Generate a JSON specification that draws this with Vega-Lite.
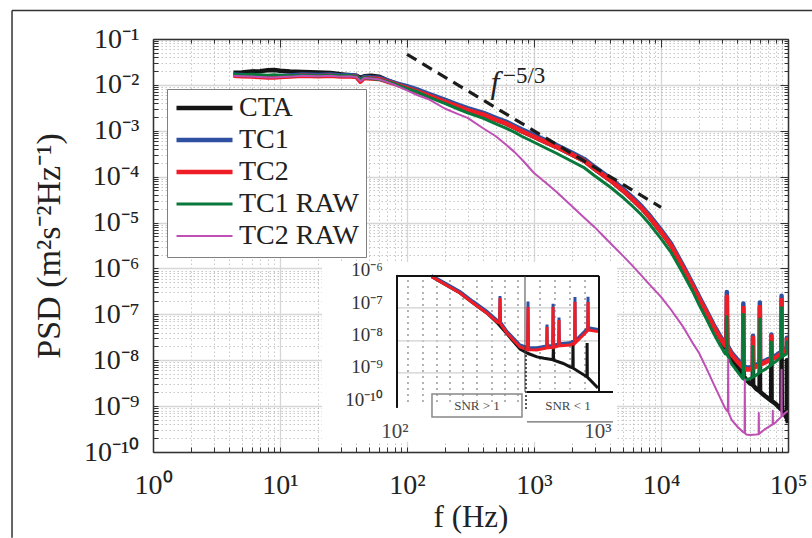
{
  "$schema": "https://vega.github.io/schema/vega-lite/v6.json",
  "width": 635,
  "height": 413,
  "autosize": {"type": "none"},
  "padding": {"left": 153, "top": 39, "right": 24, "bottom": 86},
  "background": "white",
  "config": {
    "view": {"stroke": null},
    "font": "Liberation Serif"
  },
  "datasets": {
    "main": [
      {"s":"CTA","f":4.3,"p":0.01845},{"s":"CTA","f":5,"p":0.01862},{"s":"CTA","f":6,"p":0.0195},{"s":"CTA","f":7,"p":0.01995},{"s":"CTA","f":8,"p":0.0209},{"s":"CTA","f":9,"p":0.0211},{"s":"CTA","f":10,"p":0.0204},{"s":"CTA","f":12,"p":0.0195},{"s":"CTA","f":15,"p":0.01905},{"s":"CTA","f":20,"p":0.01862},{"s":"CTA","f":25,"p":0.0182},{"s":"CTA","f":30,"p":0.01698},{"s":"CTA","f":35,"p":0.01622},{"s":"CTA","f":40,"p":0.01585},{"s":"CTA","f":43,"p":0.01413},{"s":"CTA","f":46,"p":0.01549},{"s":"CTA","f":52,"p":0.01585},{"s":"CTA","f":60,"p":0.01514},{"s":"CTA","f":70,"p":0.01259},{"s":"CTA","f":80,"p":0.01096},{"s":"CTA","f":100,"p":0.00851},{"s":"CTA","f":120,"p":0.00724},{"s":"CTA","f":150,"p":0.00575},{"s":"CTA","f":200,"p":0.00427},{"s":"CTA","f":250,"p":0.00339},{"s":"CTA","f":300,"p":0.00282},{"s":"CTA","f":400,"p":0.00224},{"s":"CTA","f":500,"p":0.001738},{"s":"CTA","f":600,"p":0.001445},{"s":"CTA","f":700,"p":0.001175},{"s":"CTA","f":800,"p":0.000977},{"s":"CTA","f":1000,"p":0.000741},{"s":"CTA","f":1200,"p":0.000589},{"s":"CTA","f":1500,"p":0.000447},{"s":"CTA","f":2000,"p":0.000302},{"s":"CTA","f":2500,"p":0.000219},{"s":"CTA","f":3000,"p":0.0001479},{"s":"CTA","f":4000,"p":8.32e-5},{"s":"CTA","f":5000,"p":5.01e-5},{"s":"CTA","f":6000,"p":3.16e-5},{"s":"CTA","f":7000,"p":2.09e-5},{"s":"CTA","f":8000,"p":1.38e-5},{"s":"CTA","f":10000,"p":6.31e-6},{"s":"CTA","f":12000,"p":3.16e-6},{"s":"CTA","f":15000,"p":1.023e-6},{"s":"CTA","f":18000,"p":3.89e-7},{"s":"CTA","f":20000,"p":2.19e-7},{"s":"CTA","f":23000,"p":1.047e-7},{"s":"CTA","f":26000,"p":5.37e-8},{"s":"CTA","f":29000,"p":3.16e-8},{"s":"CTA","f":32000,"p":1.905e-8},{"s":"CTA","f":32800,"p":1.8e-8},{"s":"CTA","f":33000,"p":7.94e-8},{"s":"CTA","f":33200,"p":1.75e-8},{"s":"CTA","f":36000,"p":1.122e-8},{"s":"CTA","f":40000,"p":7.08e-9},{"s":"CTA","f":44000,"p":4.68e-9},{"s":"CTA","f":44300,"p":4.6e-9},{"s":"CTA","f":44500,"p":2.51e-8},{"s":"CTA","f":44700,"p":4.5e-9},{"s":"CTA","f":47000,"p":3.72e-9},{"s":"CTA","f":50000,"p":3.16e-9},{"s":"CTA","f":52800,"p":2.9e-9},{"s":"CTA","f":53000,"p":6.31e-9},{"s":"CTA","f":53200,"p":2.85e-9},{"s":"CTA","f":56000,"p":2.4e-9},{"s":"CTA","f":59700,"p":2.1e-9},{"s":"CTA","f":60000,"p":1.0e-8},{"s":"CTA","f":60300,"p":2.05e-9},{"s":"CTA","f":66000,"p":1.66e-9},{"s":"CTA","f":73700,"p":1.32e-9},{"s":"CTA","f":74000,"p":1.259e-8},{"s":"CTA","f":74300,"p":1.3e-9},{"s":"CTA","f":80000,"p":1.122e-9},{"s":"CTA","f":88700,"p":8.4e-10},{"s":"CTA","f":89000,"p":1.585e-8},{"s":"CTA","f":89300,"p":8.3e-10},{"s":"CTA","f":95000,"p":6.31e-10},{"s":"CTA","f":97800,"p":5.5e-10},{"s":"CTA","f":98000,"p":1.0e-8},{"s":"CTA","f":98200,"p":5.4e-10},{"s":"CTA","f":100000,"p":4.27e-10},

      {"s":"TC1","f":4.3,"p":0.0168},{"s":"TC1","f":5,"p":0.0164},{"s":"TC1","f":6,"p":0.016},{"s":"TC1","f":7,"p":0.0157},{"s":"TC1","f":8,"p":0.0153},{"s":"TC1","f":9,"p":0.0153},{"s":"TC1","f":10,"p":0.0157},{"s":"TC1","f":12,"p":0.016},{"s":"TC1","f":15,"p":0.0168},{"s":"TC1","f":20,"p":0.0164},{"s":"TC1","f":25,"p":0.0168},{"s":"TC1","f":30,"p":0.016},{"s":"TC1","f":35,"p":0.0164},{"s":"TC1","f":40,"p":0.0157},{"s":"TC1","f":43,"p":0.0125},{"s":"TC1","f":46,"p":0.015},{"s":"TC1","f":52,"p":0.0146},{"s":"TC1","f":60,"p":0.0143},{"s":"TC1","f":70,"p":0.0125},{"s":"TC1","f":80,"p":0.0111},{"s":"TC1","f":100,"p":0.00936},{"s":"TC1","f":120,"p":0.00796},{"s":"TC1","f":150,"p":0.00633},{"s":"TC1","f":200,"p":0.0047},{"s":"TC1","f":250,"p":0.00373},{"s":"TC1","f":300,"p":0.0031},{"s":"TC1","f":400,"p":0.00246},{"s":"TC1","f":500,"p":0.00191},{"s":"TC1","f":600,"p":0.00159},{"s":"TC1","f":700,"p":0.00129},{"s":"TC1","f":800,"p":0.001075},{"s":"TC1","f":1000,"p":0.000815},{"s":"TC1","f":1200,"p":0.000648},{"s":"TC1","f":1500,"p":0.000492},{"s":"TC1","f":2000,"p":0.000332},{"s":"TC1","f":2500,"p":0.000241},{"s":"TC1","f":3000,"p":0.000163},{"s":"TC1","f":4000,"p":9.15e-5},{"s":"TC1","f":5000,"p":5.51e-5},{"s":"TC1","f":6000,"p":3.48e-5},{"s":"TC1","f":7000,"p":2.3e-5},{"s":"TC1","f":8000,"p":1.52e-5},{"s":"TC1","f":10000,"p":6.94e-6},{"s":"TC1","f":12000,"p":3.48e-6},{"s":"TC1","f":15000,"p":1.125e-6},{"s":"TC1","f":18000,"p":4.28e-7},{"s":"TC1","f":20000,"p":2.41e-7},{"s":"TC1","f":23000,"p":1.15e-7},{"s":"TC1","f":26000,"p":5.91e-8},{"s":"TC1","f":29000,"p":3.48e-8},{"s":"TC1","f":32000,"p":2.3e-8},{"s":"TC1","f":32800,"p":2.2e-8},{"s":"TC1","f":33000,"p":3.06e-7},{"s":"TC1","f":33200,"p":2.15e-8},{"s":"TC1","f":36000,"p":1.45e-8},{"s":"TC1","f":40000,"p":1.03e-8},{"s":"TC1","f":44000,"p":7.8e-9},{"s":"TC1","f":44300,"p":7.7e-9},{"s":"TC1","f":44500,"p":1.73e-7},{"s":"TC1","f":44700,"p":7.6e-9},{"s":"TC1","f":47000,"p":6.94e-9},{"s":"TC1","f":50000,"p":6.94e-9},{"s":"TC1","f":52800,"p":7.4e-9},{"s":"TC1","f":53000,"p":3.4e-8},{"s":"TC1","f":53200,"p":7.5e-9},{"s":"TC1","f":56000,"p":7.96e-9},{"s":"TC1","f":59700,"p":8.6e-9},{"s":"TC1","f":60000,"p":1.81e-7},{"s":"TC1","f":60300,"p":8.7e-9},{"s":"TC1","f":66000,"p":9.8e-9},{"s":"TC1","f":73700,"p":1.15e-8},{"s":"TC1","f":74000,"p":3.64e-8},{"s":"TC1","f":74300,"p":1.16e-8},{"s":"TC1","f":80000,"p":1.26e-8},{"s":"TC1","f":88700,"p":1.55e-8},{"s":"TC1","f":89000,"p":2.55e-7},{"s":"TC1","f":89300,"p":1.56e-8},{"s":"TC1","f":95000,"p":1.74e-8},{"s":"TC1","f":97800,"p":1.87e-8},{"s":"TC1","f":98000,"p":3.1e-8},{"s":"TC1","f":98200,"p":1.93e-8},{"s":"TC1","f":100000,"p":2.1e-8},

      {"s":"TC2","f":4.3,"p":0.01585},{"s":"TC2","f":5,"p":0.01549},{"s":"TC2","f":6,"p":0.01514},{"s":"TC2","f":7,"p":0.01479},{"s":"TC2","f":8,"p":0.01445},{"s":"TC2","f":9,"p":0.01445},{"s":"TC2","f":10,"p":0.01479},{"s":"TC2","f":12,"p":0.01514},{"s":"TC2","f":15,"p":0.01585},{"s":"TC2","f":20,"p":0.01549},{"s":"TC2","f":25,"p":0.01585},{"s":"TC2","f":30,"p":0.01514},{"s":"TC2","f":35,"p":0.01549},{"s":"TC2","f":40,"p":0.01479},{"s":"TC2","f":43,"p":0.01175},{"s":"TC2","f":46,"p":0.01413},{"s":"TC2","f":52,"p":0.0138},{"s":"TC2","f":60,"p":0.01349},{"s":"TC2","f":70,"p":0.01175},{"s":"TC2","f":80,"p":0.01047},{"s":"TC2","f":100,"p":0.00851},{"s":"TC2","f":120,"p":0.00724},{"s":"TC2","f":150,"p":0.00575},{"s":"TC2","f":200,"p":0.00427},{"s":"TC2","f":250,"p":0.00339},{"s":"TC2","f":300,"p":0.00282},{"s":"TC2","f":400,"p":0.00224},{"s":"TC2","f":500,"p":0.001738},{"s":"TC2","f":600,"p":0.001445},{"s":"TC2","f":700,"p":0.001175},{"s":"TC2","f":800,"p":0.000977},{"s":"TC2","f":1000,"p":0.000741},{"s":"TC2","f":1200,"p":0.000589},{"s":"TC2","f":1500,"p":0.000447},{"s":"TC2","f":2000,"p":0.000302},{"s":"TC2","f":2500,"p":0.000219},{"s":"TC2","f":3000,"p":0.0001479},{"s":"TC2","f":4000,"p":8.32e-5},{"s":"TC2","f":5000,"p":5.01e-5},{"s":"TC2","f":6000,"p":3.16e-5},{"s":"TC2","f":7000,"p":2.09e-5},{"s":"TC2","f":8000,"p":1.38e-5},{"s":"TC2","f":10000,"p":6.31e-6},{"s":"TC2","f":12000,"p":3.16e-6},{"s":"TC2","f":15000,"p":1.023e-6},{"s":"TC2","f":18000,"p":3.89e-7},{"s":"TC2","f":20000,"p":2.19e-7},{"s":"TC2","f":23000,"p":1.047e-7},{"s":"TC2","f":26000,"p":5.37e-8},{"s":"TC2","f":29000,"p":3.16e-8},{"s":"TC2","f":32000,"p":2.09e-8},{"s":"TC2","f":32800,"p":2.0e-8},{"s":"TC2","f":33000,"p":2.45e-7},{"s":"TC2","f":33200,"p":1.95e-8},{"s":"TC2","f":36000,"p":1.318e-8},{"s":"TC2","f":40000,"p":9.33e-9},{"s":"TC2","f":44000,"p":7.08e-9},{"s":"TC2","f":44300,"p":7.0e-9},{"s":"TC2","f":44500,"p":1.38e-7},{"s":"TC2","f":44700,"p":6.9e-9},{"s":"TC2","f":47000,"p":6.31e-9},{"s":"TC2","f":50000,"p":6.31e-9},{"s":"TC2","f":52800,"p":6.7e-9},{"s":"TC2","f":53000,"p":3.09e-8},{"s":"TC2","f":53200,"p":6.8e-9},{"s":"TC2","f":56000,"p":7.24e-9},{"s":"TC2","f":59700,"p":7.8e-9},{"s":"TC2","f":60000,"p":1.445e-7},{"s":"TC2","f":60300,"p":7.9e-9},{"s":"TC2","f":66000,"p":8.91e-9},{"s":"TC2","f":73700,"p":1.047e-8},{"s":"TC2","f":74000,"p":3.31e-8},{"s":"TC2","f":74300,"p":1.05e-8},{"s":"TC2","f":80000,"p":1.148e-8},{"s":"TC2","f":88700,"p":1.413e-8},{"s":"TC2","f":89000,"p":2.04e-7},{"s":"TC2","f":89300,"p":1.42e-8},{"s":"TC2","f":95000,"p":1.585e-8},{"s":"TC2","f":97800,"p":1.7e-8},{"s":"TC2","f":98000,"p":2.82e-8},{"s":"TC2","f":98200,"p":1.75e-8},{"s":"TC2","f":100000,"p":1.905e-8},

      {"s":"TC1 RAW","f":4.3,"p":0.01698},{"s":"TC1 RAW","f":5,"p":0.0166},{"s":"TC1 RAW","f":6,"p":0.01698},{"s":"TC1 RAW","f":7,"p":0.0166},{"s":"TC1 RAW","f":8,"p":0.01622},{"s":"TC1 RAW","f":9,"p":0.0166},{"s":"TC1 RAW","f":10,"p":0.01622},{"s":"TC1 RAW","f":12,"p":0.01585},{"s":"TC1 RAW","f":15,"p":0.01622},{"s":"TC1 RAW","f":20,"p":0.01585},{"s":"TC1 RAW","f":25,"p":0.01622},{"s":"TC1 RAW","f":30,"p":0.01585},{"s":"TC1 RAW","f":35,"p":0.01622},{"s":"TC1 RAW","f":40,"p":0.01514},{"s":"TC1 RAW","f":43,"p":0.01318},{"s":"TC1 RAW","f":46,"p":0.01445},{"s":"TC1 RAW","f":52,"p":0.0138},{"s":"TC1 RAW","f":60,"p":0.01318},{"s":"TC1 RAW","f":70,"p":0.01175},{"s":"TC1 RAW","f":80,"p":0.01047},{"s":"TC1 RAW","f":100,"p":0.00832},{"s":"TC1 RAW","f":120,"p":0.00708},{"s":"TC1 RAW","f":150,"p":0.00537},{"s":"TC1 RAW","f":200,"p":0.00389},{"s":"TC1 RAW","f":250,"p":0.00302},{"s":"TC1 RAW","f":300,"p":0.00245},{"s":"TC1 RAW","f":400,"p":0.001862},{"s":"TC1 RAW","f":500,"p":0.001413},{"s":"TC1 RAW","f":600,"p":0.001148},{"s":"TC1 RAW","f":700,"p":0.000933},{"s":"TC1 RAW","f":800,"p":0.000759},{"s":"TC1 RAW","f":1000,"p":0.000562},{"s":"TC1 RAW","f":1200,"p":0.000437},{"s":"TC1 RAW","f":1500,"p":0.000324},{"s":"TC1 RAW","f":2000,"p":0.000214},{"s":"TC1 RAW","f":2500,"p":0.0001549},{"s":"TC1 RAW","f":3000,"p":0.0001047},{"s":"TC1 RAW","f":4000,"p":5.89e-5},{"s":"TC1 RAW","f":5000,"p":3.55e-5},{"s":"TC1 RAW","f":6000,"p":2.24e-5},{"s":"TC1 RAW","f":7000,"p":1.479e-5},{"s":"TC1 RAW","f":8000,"p":9.77e-6},{"s":"TC1 RAW","f":10000,"p":4.47e-6},{"s":"TC1 RAW","f":12000,"p":2.24e-6},{"s":"TC1 RAW","f":15000,"p":7.59e-7},{"s":"TC1 RAW","f":18000,"p":2.95e-7},{"s":"TC1 RAW","f":20000,"p":1.585e-7},{"s":"TC1 RAW","f":23000,"p":7.59e-8},{"s":"TC1 RAW","f":26000,"p":3.8e-8},{"s":"TC1 RAW","f":29000,"p":2.19e-8},{"s":"TC1 RAW","f":32000,"p":1.38e-8},{"s":"TC1 RAW","f":32800,"p":1.35e-8},{"s":"TC1 RAW","f":33000,"p":8.91e-8},{"s":"TC1 RAW","f":33200,"p":1.32e-8},{"s":"TC1 RAW","f":36000,"p":8.32e-9},{"s":"TC1 RAW","f":40000,"p":5.62e-9},{"s":"TC1 RAW","f":44000,"p":3.98e-9},{"s":"TC1 RAW","f":44300,"p":3.95e-9},{"s":"TC1 RAW","f":44500,"p":1.0e-7},{"s":"TC1 RAW","f":44700,"p":3.9e-9},{"s":"TC1 RAW","f":47000,"p":3.72e-9},{"s":"TC1 RAW","f":50000,"p":3.98e-9},{"s":"TC1 RAW","f":52800,"p":4.3e-9},{"s":"TC1 RAW","f":53000,"p":2.0e-8},{"s":"TC1 RAW","f":53200,"p":4.35e-9},{"s":"TC1 RAW","f":56000,"p":4.68e-9},{"s":"TC1 RAW","f":59700,"p":5.4e-9},{"s":"TC1 RAW","f":60000,"p":7.94e-8},{"s":"TC1 RAW","f":60300,"p":5.5e-9},{"s":"TC1 RAW","f":66000,"p":6.31e-9},{"s":"TC1 RAW","f":73700,"p":7.9e-9},{"s":"TC1 RAW","f":74000,"p":2.51e-8},{"s":"TC1 RAW","f":74300,"p":8.0e-9},{"s":"TC1 RAW","f":80000,"p":9.33e-9},{"s":"TC1 RAW","f":88700,"p":1.17e-8},{"s":"TC1 RAW","f":89000,"p":1.413e-7},{"s":"TC1 RAW","f":89300,"p":1.18e-8},{"s":"TC1 RAW","f":95000,"p":1.318e-8},{"s":"TC1 RAW","f":97800,"p":1.4e-8},{"s":"TC1 RAW","f":98000,"p":2.51e-8},{"s":"TC1 RAW","f":98200,"p":1.42e-8},{"s":"TC1 RAW","f":100000,"p":1.514e-8},

      {"s":"TC2 RAW","f":4.3,"p":0.01585},{"s":"TC2 RAW","f":5,"p":0.01549},{"s":"TC2 RAW","f":6,"p":0.01514},{"s":"TC2 RAW","f":7,"p":0.01479},{"s":"TC2 RAW","f":8,"p":0.01445},{"s":"TC2 RAW","f":9,"p":0.01445},{"s":"TC2 RAW","f":10,"p":0.01479},{"s":"TC2 RAW","f":12,"p":0.01514},{"s":"TC2 RAW","f":15,"p":0.01585},{"s":"TC2 RAW","f":20,"p":0.01549},{"s":"TC2 RAW","f":25,"p":0.01585},{"s":"TC2 RAW","f":30,"p":0.01514},{"s":"TC2 RAW","f":35,"p":0.01549},{"s":"TC2 RAW","f":40,"p":0.01479},{"s":"TC2 RAW","f":43,"p":0.012},{"s":"TC2 RAW","f":46,"p":0.01413},{"s":"TC2 RAW","f":52,"p":0.0138},{"s":"TC2 RAW","f":60,"p":0.0133},{"s":"TC2 RAW","f":70,"p":0.0115},{"s":"TC2 RAW","f":80,"p":0.01},{"s":"TC2 RAW","f":100,"p":0.00759},{"s":"TC2 RAW","f":120,"p":0.00603},{"s":"TC2 RAW","f":150,"p":0.00479},{"s":"TC2 RAW","f":200,"p":0.00302},{"s":"TC2 RAW","f":250,"p":0.00234},{"s":"TC2 RAW","f":300,"p":0.001905},{"s":"TC2 RAW","f":400,"p":0.001122},{"s":"TC2 RAW","f":500,"p":0.000759},{"s":"TC2 RAW","f":600,"p":0.000501},{"s":"TC2 RAW","f":700,"p":0.000347},{"s":"TC2 RAW","f":800,"p":0.00024},{"s":"TC2 RAW","f":1000,"p":0.0001202},{"s":"TC2 RAW","f":1200,"p":7.94e-5},{"s":"TC2 RAW","f":1500,"p":4.68e-5},{"s":"TC2 RAW","f":2000,"p":2.24e-5},{"s":"TC2 RAW","f":2500,"p":1.259e-5},{"s":"TC2 RAW","f":3000,"p":7.94e-6},{"s":"TC2 RAW","f":4000,"p":3.55e-6},{"s":"TC2 RAW","f":5000,"p":1.905e-6},{"s":"TC2 RAW","f":6000,"p":1.122e-6},{"s":"TC2 RAW","f":7000,"p":7.08e-7},{"s":"TC2 RAW","f":8000,"p":4.68e-7},{"s":"TC2 RAW","f":10000,"p":2.4e-7},{"s":"TC2 RAW","f":12000,"p":1.259e-7},{"s":"TC2 RAW","f":15000,"p":5.25e-8},{"s":"TC2 RAW","f":18000,"p":2.24e-8},{"s":"TC2 RAW","f":20000,"p":1.413e-8},{"s":"TC2 RAW","f":23000,"p":6.31e-9},{"s":"TC2 RAW","f":26000,"p":3.02e-9},{"s":"TC2 RAW","f":29000,"p":1.585e-9},{"s":"TC2 RAW","f":32000,"p":8.91e-10},{"s":"TC2 RAW","f":33600,"p":7.59e-10},{"s":"TC2 RAW","f":33800,"p":1.023e-8},{"s":"TC2 RAW","f":34000,"p":7.24e-10},{"s":"TC2 RAW","f":36000,"p":5.01e-10},{"s":"TC2 RAW","f":40000,"p":3.55e-10},{"s":"TC2 RAW","f":44000,"p":2.75e-10},{"s":"TC2 RAW","f":45500,"p":2.6e-10},{"s":"TC2 RAW","f":45700,"p":3.72e-9},{"s":"TC2 RAW","f":45900,"p":2.55e-10},{"s":"TC2 RAW","f":47000,"p":2.4e-10},{"s":"TC2 RAW","f":50000,"p":2.34e-10},{"s":"TC2 RAW","f":56000,"p":2.4e-10},{"s":"TC2 RAW","f":58700,"p":2.45e-10},{"s":"TC2 RAW","f":58900,"p":7.08e-10},{"s":"TC2 RAW","f":59100,"p":2.48e-10},{"s":"TC2 RAW","f":66000,"p":3.16e-10},{"s":"TC2 RAW","f":75700,"p":4.0e-10},{"s":"TC2 RAW","f":75900,"p":7.94e-10},{"s":"TC2 RAW","f":76100,"p":4.0e-10},{"s":"TC2 RAW","f":80000,"p":4.47e-10},{"s":"TC2 RAW","f":88700,"p":5.9e-10},{"s":"TC2 RAW","f":89000,"p":6.17e-9},{"s":"TC2 RAW","f":89300,"p":6.0e-10},{"s":"TC2 RAW","f":95000,"p":7.08e-10},{"s":"TC2 RAW","f":100000,"p":7.94e-10}
    ],
    "inset": [
      {"s":"CTA","f":156.5,"p":6.62e-7},{"s":"CTA","f":202.8,"p":4.37e-7},{"s":"CTA","f":261.3,"p":2.92e-7},{"s":"CTA","f":331,"p":1.77e-7},{"s":"CTA","f":424.3,"p":1.07e-7},{"s":"CTA","f":511.5,"p":6.6e-8},{"s":"CTA","f":609.5,"p":3.8e-8},{"s":"CTA","f":776,"p":1.75e-8},{"s":"CTA","f":900,"p":1.4e-8},{"s":"CTA","f":1056,"p":1.18e-8},{"s":"CTA","f":1200,"p":1.1e-8},{"s":"CTA","f":1413,"p":1.02e-8},{"s":"CTA","f":1420,"p":1.95e-8},{"s":"CTA","f":1428,"p":1.0e-8},{"s":"CTA","f":1700,"p":8.5e-9},{"s":"CTA","f":1921,"p":7.15e-9},{"s":"CTA","f":2020,"p":6.8e-9},{"s":"CTA","f":2028,"p":2.77e-8},{"s":"CTA","f":2036,"p":6.7e-9},{"s":"CTA","f":2614,"p":4.33e-9},{"s":"CTA","f":2620,"p":2.38e-8},{"s":"CTA","f":2630,"p":4.3e-9},{"s":"CTA","f":3191,"p":2.49e-9},
      {"s":"TC1","f":156.5,"p":7.0e-7},{"s":"TC1","f":202.8,"p":4.7e-7},{"s":"TC1","f":261.3,"p":3.15e-7},{"s":"TC1","f":331,"p":1.92e-7},{"s":"TC1","f":424.3,"p":1.17e-7},{"s":"TC1","f":511.5,"p":7.5e-8},{"s":"TC1","f":535,"p":7.1e-8},{"s":"TC1","f":540,"p":2.5e-7},{"s":"TC1","f":545,"p":6.8e-8},{"s":"TC1","f":609.5,"p":4.3e-8},{"s":"TC1","f":776,"p":2.15e-8},{"s":"TC1","f":890,"p":1.9e-8},{"s":"TC1","f":897,"p":1.9e-7},{"s":"TC1","f":904,"p":1.9e-8},{"s":"TC1","f":1050,"p":1.88e-8},{"s":"TC1","f":1260,"p":2.05e-8},{"s":"TC1","f":1266,"p":6.0e-8},{"s":"TC1","f":1272,"p":2.05e-8},{"s":"TC1","f":1405,"p":2.1e-8},{"s":"TC1","f":1413,"p":1.7e-7},{"s":"TC1","f":1421,"p":2.1e-8},{"s":"TC1","f":1565,"p":2.3e-8},{"s":"TC1","f":1574,"p":8.5e-8},{"s":"TC1","f":1583,"p":2.3e-8},{"s":"TC1","f":1921,"p":2.4e-8},{"s":"TC1","f":2090,"p":2.65e-8},{"s":"TC1","f":2102,"p":2.4e-7},{"s":"TC1","f":2114,"p":2.65e-8},{"s":"TC1","f":2600,"p":4.7e-8},{"s":"TC1","f":2650,"p":5.1e-8},{"s":"TC1","f":2663,"p":2.4e-7},{"s":"TC1","f":2676,"p":5.1e-8},{"s":"TC1","f":3191,"p":4.7e-8},
      {"s":"TC2","f":156.5,"p":6.62e-7},{"s":"TC2","f":202.8,"p":4.37e-7},{"s":"TC2","f":261.3,"p":2.92e-7},{"s":"TC2","f":331,"p":1.77e-7},{"s":"TC2","f":424.3,"p":1.07e-7},{"s":"TC2","f":511.5,"p":6.83e-8},{"s":"TC2","f":535,"p":6.5e-8},{"s":"TC2","f":540,"p":2.28e-7},{"s":"TC2","f":545,"p":6.2e-8},{"s":"TC2","f":609.5,"p":3.94e-8},{"s":"TC2","f":776,"p":1.95e-8},{"s":"TC2","f":890,"p":1.7e-8},{"s":"TC2","f":897,"p":1.45e-7},{"s":"TC2","f":904,"p":1.7e-8},{"s":"TC2","f":1050,"p":1.68e-8},{"s":"TC2","f":1260,"p":1.85e-8},{"s":"TC2","f":1266,"p":5.31e-8},{"s":"TC2","f":1272,"p":1.85e-8},{"s":"TC2","f":1405,"p":1.9e-8},{"s":"TC2","f":1413,"p":1.45e-7},{"s":"TC2","f":1421,"p":1.9e-8},{"s":"TC2","f":1565,"p":2.05e-8},{"s":"TC2","f":1574,"p":7.55e-8},{"s":"TC2","f":1583,"p":2.05e-8},{"s":"TC2","f":1921,"p":2.15e-8},{"s":"TC2","f":2090,"p":2.38e-8},{"s":"TC2","f":2102,"p":1.86e-7},{"s":"TC2","f":2114,"p":2.38e-8},{"s":"TC2","f":2600,"p":4.2e-8},{"s":"TC2","f":2650,"p":4.57e-8},{"s":"TC2","f":2663,"p":1.86e-7},{"s":"TC2","f":2676,"p":4.57e-8},{"s":"TC2","f":3191,"p":4.2e-8}
    ]
  },
  "resolve": {"axis": {"x": "independent", "y": "independent"}},
  "layer": [
    {
      "data": {"name": "main"},
      "mark": {"type": "line", "clip": true, "strokeJoin": "round"},
      "encoding": {
        "x": {
          "field": "f", "type": "quantitative",
          "scale": {"type": "log", "domain": [1, 100000]},
          "axis": {
            "orient": "bottom",
            "values": [1,2,3,4,5,6,7,8,9,10,20,30,40,50,60,70,80,90,100,200,300,400,500,600,700,800,900,1000,2000,3000,4000,5000,6000,7000,8000,9000,10000,20000,30000,40000,50000,60000,70000,80000,90000,100000],
            "grid": true,
            "gridColor": {"condition": {"test": "abs(log(datum.value)/LN10-round(log(datum.value)/LN10))<0.01", "value": "#d6d6d6"}, "value": "#b9b9b9"},
            "gridDash": {"condition": {"test": "abs(log(datum.value)/LN10-round(log(datum.value)/LN10))<0.01", "value": []}, "value": [1.5, 2.5]},
            "gridWidth": {"condition": {"test": "abs(log(datum.value)/LN10-round(log(datum.value)/LN10))<0.01", "value": 1.3}, "value": 0.8},
            "tickSize": -5,
            "tickColor": "#333", "tickWidth": 1,
            "domainColor": "#333", "domainWidth": 1.5,
            "labelExpr": "abs(log(datum.value)/LN10-round(log(datum.value)/LN10))<0.01 ? '10' + replace(replace(replace(replace(replace(replace(replace(replace(replace(replace(replace(toString(round(log(datum.value)/LN10)),'-','⁻'),'0','⁰'),'1','¹'),'2','²'),'3','³'),'4','⁴'),'5','⁵'),'6','⁶'),'7','⁷'),'8','⁸'),'9','⁹') : ''",
            "labelFont": "Liberation Serif", "labelFontSize": 28, "labelColor": "#222",
            "labelPadding": 24, "labelOverlap": false, "labelFlush": false,
            "title": "f  (Hz)", "titleFont": "Liberation Serif", "titleFontSize": 31,
            "titleFontWeight": "normal", "titleColor": "#222", "titlePadding": 3
          }
        },
        "y": {
          "field": "p", "type": "quantitative",
          "scale": {"type": "log", "domain": [1e-10, 0.1]},
          "axis": {
            "orient": "left",
            "values": [1e-10,2e-10,3e-10,4e-10,5e-10,6e-10,7e-10,8e-10,9e-10,1e-9,2e-9,3e-9,4e-9,5e-9,6e-9,7e-9,8e-9,9e-9,1e-8,2e-8,3e-8,4e-8,5e-8,6e-8,7e-8,8e-8,9e-8,1e-7,2e-7,3e-7,4e-7,5e-7,6e-7,7e-7,8e-7,9e-7,1e-6,2e-6,3e-6,4e-6,5e-6,6e-6,7e-6,8e-6,9e-6,1e-5,2e-5,3e-5,4e-5,5e-5,6e-5,7e-5,8e-5,9e-5,1e-4,2e-4,3e-4,4e-4,5e-4,6e-4,7e-4,8e-4,9e-4,1e-3,2e-3,3e-3,4e-3,5e-3,6e-3,7e-3,8e-3,9e-3,1e-2,2e-2,3e-2,4e-2,5e-2,6e-2,7e-2,8e-2,9e-2,1e-1],
            "grid": true,
            "gridColor": {"condition": {"test": "abs(log(datum.value)/LN10-round(log(datum.value)/LN10))<0.01", "value": "#d6d6d6"}, "value": "#b9b9b9"},
            "gridDash": {"condition": {"test": "abs(log(datum.value)/LN10-round(log(datum.value)/LN10))<0.01", "value": []}, "value": [1.5, 2.5]},
            "gridWidth": {"condition": {"test": "abs(log(datum.value)/LN10-round(log(datum.value)/LN10))<0.01", "value": 1.3}, "value": 0.8},
            "tickSize": -5,
            "tickColor": "#333", "tickWidth": 1,
            "domainColor": "#333", "domainWidth": 1.5,
            "labelExpr": "abs(log(datum.value)/LN10-round(log(datum.value)/LN10))<0.01 ? '10' + replace(replace(replace(replace(replace(replace(replace(replace(replace(replace(replace(toString(round(log(datum.value)/LN10)),'-','⁻'),'0','⁰'),'1','¹'),'2','²'),'3','³'),'4','⁴'),'5','⁵'),'6','⁶'),'7','⁷'),'8','⁸'),'9','⁹') : ''",
            "labelFont": "Liberation Serif", "labelFontSize": 28, "labelColor": "#222",
            "labelPadding": 19, "labelOverlap": false, "labelFlush": false,
            "title": "PSD (m²s⁻²Hz⁻¹)", "titleFont": "Liberation Serif", "titleFontSize": 34,
            "titleFontWeight": "normal", "titleColor": "#222", "titlePadding": 17
          }
        },
        "color": {
          "field": "s", "type": "nominal",
          "scale": {"domain": ["CTA","TC1","TC2","TC1 RAW","TC2 RAW"], "range": ["#141414","#2f50a0","#ee1d26","#08793b","#be4fb4"]},
          "legend": {"orient": "none", "legendX": 14, "legendY": 50, "title": null, "symbolType": "stroke", "symbolSize": 3136, "clipHeight": 24, "rowPadding": 4, "labelOffset": 4, "padding": 7, "labelFont": "Liberation Serif", "labelFontSize": 28, "labelColor": "#222", "strokeColor": "#808080", "fillColor": "white", "labelLimit": 300}
        },
        "strokeWidth": {
          "field": "s", "type": "nominal",
          "scale": {"type": "ordinal", "domain": ["CTA","TC1","TC2","TC1 RAW","TC2 RAW"], "range": [4.5, 4.5, 4.5, 3, 2]},
          "legend": {"orient": "none", "legendX": 14, "legendY": 50, "title": null, "symbolType": "stroke", "symbolSize": 3136, "clipHeight": 24, "rowPadding": 4, "labelOffset": 4, "padding": 7, "labelFont": "Liberation Serif", "labelFontSize": 28, "labelColor": "#222", "strokeColor": "#808080", "fillColor": "white", "labelLimit": 300}
        }
      }
    },
    {
      "data": {"values": [{"f": 100, "p": 0.0464}, {"f": 10000, "p": 2.15e-5}]},
      "mark": {"type": "line", "color": "#1c1c1c", "strokeWidth": 3.2, "strokeDash": [11, 7]},
      "encoding": {
        "x": {"field": "f", "type": "quantitative", "scale": {"type": "log"}, "axis": null},
        "y": {"field": "p", "type": "quantitative", "scale": {"type": "log"}, "axis": null}
      }
    },
    {
      "data": {"values": [{"f": 493, "p": 0.0066, "t": "f"}]},
      "mark": {"type": "text", "font": "Liberation Serif", "fontStyle": "italic", "fontSize": 32, "align": "center", "baseline": "alphabetic", "color": "#222"},
      "encoding": {
        "x": {"field": "f", "type": "quantitative", "scale": {"type": "log"}, "axis": null},
        "y": {"field": "p", "type": "quantitative", "scale": {"type": "log"}, "axis": null},
        "text": {"field": "t"}
      }
    },
    {
      "data": {"values": [{"f": 570, "p": 0.0112, "t": "−5/3"}]},
      "mark": {"type": "text", "font": "Liberation Serif", "fontSize": 23, "align": "left", "baseline": "alphabetic", "color": "#222"},
      "encoding": {
        "x": {"field": "f", "type": "quantitative", "scale": {"type": "log"}, "axis": null},
        "y": {"field": "p", "type": "quantitative", "scale": {"type": "log"}, "axis": null},
        "text": {"field": "t"}
      }
    },
    {
      "data": {"values": [{"f": 21.42, "f2": 4503, "p": 1.386e-6, "p2": 1.66e-10}]},
      "mark": {"type": "rect", "color": "white"},
      "encoding": {
        "x": {"field": "f", "type": "quantitative", "scale": {"type": "log"}, "axis": null},
        "x2": {"field": "f2"},
        "y": {"field": "p", "type": "quantitative", "scale": {"type": "log"}, "axis": null},
        "y2": {"field": "p2"}
      }
    },
    {
      "data": {"values": [
        {"f": 101.8, "f2": 101.8, "p": 5.61e-7, "p2": 1.06e-9},
        {"f": 133.6, "f2": 133.6, "p": 5.61e-7, "p2": 1.06e-9},
        {"f": 172.2, "f2": 172.2, "p": 5.61e-7, "p2": 1.06e-9},
        {"f": 218, "f2": 218, "p": 5.61e-7, "p2": 1.06e-9},
        {"f": 276, "f2": 276, "p": 5.61e-7, "p2": 1.06e-9},
        {"f": 355.7, "f2": 355.7, "p": 5.61e-7, "p2": 1.06e-9},
        {"f": 467, "f2": 467, "p": 5.61e-7, "p2": 1.06e-9},
        {"f": 591, "f2": 591, "p": 5.61e-7, "p2": 1.06e-9},
        {"f": 748, "f2": 748, "p": 5.61e-7, "p2": 1.06e-9},
        {"f": 1115, "f2": 1115, "p": 5.61e-7, "p2": 2.3e-9},
        {"f": 1463, "f2": 1463, "p": 5.61e-7, "p2": 2.3e-9},
        {"f": 1921, "f2": 1921, "p": 5.61e-7, "p2": 2.3e-9},
        {"f": 2522, "f2": 2522, "p": 5.61e-7, "p2": 2.3e-9}
      ]},
      "mark": {"type": "rule", "color": "#9a9a9a", "strokeWidth": 1.5, "strokeDash": [2, 4]},
      "encoding": {
        "x": {"field": "f", "type": "quantitative", "scale": {"type": "log"}, "axis": null},
        "x2": {"field": "f2"},
        "y": {"field": "p", "type": "quantitative", "scale": {"type": "log"}, "axis": null},
        "y2": {"field": "p2"}
      }
    },
    {
      "data": {"values": [
        {"f": 83.4, "f2": 3250, "p": 1.38e-7, "p2": 1.38e-7},
        {"f": 83.4, "f2": 3250, "p": 2.63e-8, "p2": 2.63e-8},
        {"f": 83.4, "f2": 3250, "p": 5.29e-9, "p2": 5.29e-9}
      ]},
      "mark": {"type": "rule", "color": "#d0d0d0", "strokeWidth": 1.2},
      "encoding": {
        "x": {"field": "f", "type": "quantitative", "scale": {"type": "log"}, "axis": null},
        "x2": {"field": "f2"},
        "y": {"field": "p", "type": "quantitative", "scale": {"type": "log"}, "axis": null},
        "y2": {"field": "p2"}
      }
    },
    {
      "data": {"name": "inset"},
      "transform": [{"filter": "datum.s === 'CTA'"}],
      "mark": {"type": "line", "color": "#141414", "strokeWidth": 3},
      "encoding": {
        "x": {"field": "f", "type": "quantitative", "scale": {"type": "log"}, "axis": null},
        "y": {"field": "p", "type": "quantitative", "scale": {"type": "log"}, "axis": null}
      }
    },
    {
      "data": {"name": "inset"},
      "transform": [{"filter": "datum.s === 'TC1'"}],
      "mark": {"type": "line", "color": "#2f50a0", "strokeWidth": 3},
      "encoding": {
        "x": {"field": "f", "type": "quantitative", "scale": {"type": "log"}, "axis": null},
        "y": {"field": "p", "type": "quantitative", "scale": {"type": "log"}, "axis": null}
      }
    },
    {
      "data": {"name": "inset"},
      "transform": [{"filter": "datum.s === 'TC2'"}],
      "mark": {"type": "line", "color": "#ee1d26", "strokeWidth": 3},
      "encoding": {
        "x": {"field": "f", "type": "quantitative", "scale": {"type": "log"}, "axis": null},
        "y": {"field": "p", "type": "quantitative", "scale": {"type": "log"}, "axis": null}
      }
    },
    {
      "data": {"values": [
        {"f": 83.4, "f2": 83.4, "p": 7.22e-7, "p2": 9.14e-10},
        {"f": 83.4, "f2": 3250, "p": 6.87e-7, "p2": 6.87e-7},
        {"f": 3250, "f2": 3250, "p": 6.87e-7, "p2": 2.04e-9},
        {"f": 880.9, "f2": 4188, "p": 2.04e-9, "p2": 2.04e-9}
      ]},
      "mark": {"type": "rule", "color": "#111", "strokeWidth": 2},
      "encoding": {
        "x": {"field": "f", "type": "quantitative", "scale": {"type": "log"}, "axis": null},
        "x2": {"field": "f2"},
        "y": {"field": "p", "type": "quantitative", "scale": {"type": "log"}, "axis": null},
        "y2": {"field": "p2"}
      }
    },
    {
      "data": {"values": [
        {"f": 849.4, "f2": 849.4, "p": 6.87e-7, "p2": 2.04e-9},
        {"f": 880.9, "f2": 4188, "p": 4.53e-10, "p2": 4.53e-10}
      ]},
      "mark": {"type": "rule", "color": "#444", "strokeWidth": 1},
      "encoding": {
        "x": {"field": "f", "type": "quantitative", "scale": {"type": "log"}, "axis": null},
        "x2": {"field": "f2"},
        "y": {"field": "p", "type": "quantitative", "scale": {"type": "log"}, "axis": null},
        "y2": {"field": "p2"}
      }
    },
    {
      "data": {"values": [{"f": 865, "f2": 865, "p": 1.3e-8, "p2": 8.26e-10}]},
      "mark": {"type": "rule", "color": "#222", "strokeWidth": 1.5, "strokeDash": [2, 2]},
      "encoding": {
        "x": {"field": "f", "type": "quantitative", "scale": {"type": "log"}, "axis": null},
        "x2": {"field": "f2"},
        "y": {"field": "p", "type": "quantitative", "scale": {"type": "log"}, "axis": null},
        "y2": {"field": "p2"}
      }
    },
    {
      "data": {"values": [{"f": 157.3, "f2": 804.3, "p": 1.845e-9, "p2": 5.82e-10}]},
      "mark": {"type": "rect", "fill": null, "stroke": "#888", "strokeWidth": 1.5},
      "encoding": {
        "x": {"field": "f", "type": "quantitative", "scale": {"type": "log"}, "axis": null},
        "x2": {"field": "f2"},
        "y": {"field": "p", "type": "quantitative", "scale": {"type": "log"}, "axis": null},
        "y2": {"field": "p2"}
      }
    },
    {
      "data": {"values": [
        {"f": 355.7, "p": 1.01e-9, "t": "SNR > 1"},
        {"f": 1853, "p": 1.01e-9, "t": "SNR < 1"},
        {"f": 80.45, "p": 2.74e-10, "t": "10²"},
        {"f": 3191, "p": 2.74e-10, "t": "10³"}
      ]},
      "mark": {"type": "text", "font": "Liberation Serif", "fontSize": 13, "align": "center", "baseline": "middle", "color": "#444"},
      "encoding": {
        "x": {"field": "f", "type": "quantitative", "scale": {"type": "log"}, "axis": null},
        "y": {"field": "p", "type": "quantitative", "scale": {"type": "log"}, "axis": null},
        "text": {"field": "t"},
        "size": {"condition": {"test": "indexof(datum.t, 'SNR') >= 0", "value": 13}, "value": 21}
      }
    },
    {
      "data": {"values": [
        {"f": 64.7, "p": 9.27e-7, "t": "10⁻⁶"},
        {"f": 64.7, "p": 1.77e-7, "t": "10⁻⁷"},
        {"f": 64.7, "p": 3.56e-8, "t": "10⁻⁸"},
        {"f": 64.7, "p": 7.15e-9, "t": "10⁻⁹"},
        {"f": 64.7, "p": 1.36e-9, "t": "10⁻¹⁰"}
      ]},
      "mark": {"type": "text", "font": "Liberation Serif", "fontSize": 19, "align": "right", "baseline": "middle", "color": "#333"},
      "encoding": {
        "x": {"field": "f", "type": "quantitative", "scale": {"type": "log"}, "axis": null},
        "y": {"field": "p", "type": "quantitative", "scale": {"type": "log"}, "axis": null},
        "text": {"field": "t"}
      }
    },
    {
      "data": {"values": [
        {"f": 0.0776, "f2": 154500, "p": 0.4178, "p2": 0.4178},
        {"f": 0.0776, "f2": 0.0776, "p": 0.4178, "p2": 1.35e-12}
      ]},
      "mark": {"type": "rule", "color": "#333", "strokeWidth": 1.5, "clip": false},
      "encoding": {
        "x": {"field": "f", "type": "quantitative", "scale": {"type": "log"}, "axis": null},
        "x2": {"field": "f2"},
        "y": {"field": "p", "type": "quantitative", "scale": {"type": "log"}, "axis": null},
        "y2": {"field": "p2"}
      }
    },
    {
      "data": {"values": [{"f": 10, "p": 0.001}]},
      "mark": {"type": "point", "opacity": 0},
      "encoding": {
        "x": {
          "field": "f", "type": "quantitative", "scale": {"type": "log"},
          "axis": {
            "orient": "top", "labels": false, "grid": false, "title": null,
            "values": [1,2,3,4,5,6,7,8,9,10,20,30,40,50,60,70,80,90,100,200,300,400,500,600,700,800,900,1000,2000,3000,4000,5000,6000,7000,8000,9000,10000,20000,30000,40000,50000,60000,70000,80000,90000,100000],
            "tickSize": {"condition": {"test": "abs(log(datum.value)/LN10-round(log(datum.value)/LN10))<0.01", "value": -8}, "value": -4},
            "tickColor": "#333", "tickWidth": 1, "domainColor": "#333", "domainWidth": 1.5
          }
        },
        "y": {
          "field": "p", "type": "quantitative", "scale": {"type": "log"},
          "axis": {
            "orient": "right", "labels": false, "grid": false, "title": null,
            "values": [1e-10,2e-10,3e-10,4e-10,5e-10,6e-10,7e-10,8e-10,9e-10,1e-9,2e-9,3e-9,4e-9,5e-9,6e-9,7e-9,8e-9,9e-9,1e-8,2e-8,3e-8,4e-8,5e-8,6e-8,7e-8,8e-8,9e-8,1e-7,2e-7,3e-7,4e-7,5e-7,6e-7,7e-7,8e-7,9e-7,1e-6,2e-6,3e-6,4e-6,5e-6,6e-6,7e-6,8e-6,9e-6,1e-5,2e-5,3e-5,4e-5,5e-5,6e-5,7e-5,8e-5,9e-5,1e-4,2e-4,3e-4,4e-4,5e-4,6e-4,7e-4,8e-4,9e-4,1e-3,2e-3,3e-3,4e-3,5e-3,6e-3,7e-3,8e-3,9e-3,1e-2,2e-2,3e-2,4e-2,5e-2,6e-2,7e-2,8e-2,9e-2,1e-1],
            "tickSize": {"condition": {"test": "abs(log(datum.value)/LN10-round(log(datum.value)/LN10))<0.01", "value": -8}, "value": -4},
            "tickColor": "#333", "tickWidth": 1, "domainColor": "#333", "domainWidth": 1.5
          }
        }
      }
    }
  ]
}
